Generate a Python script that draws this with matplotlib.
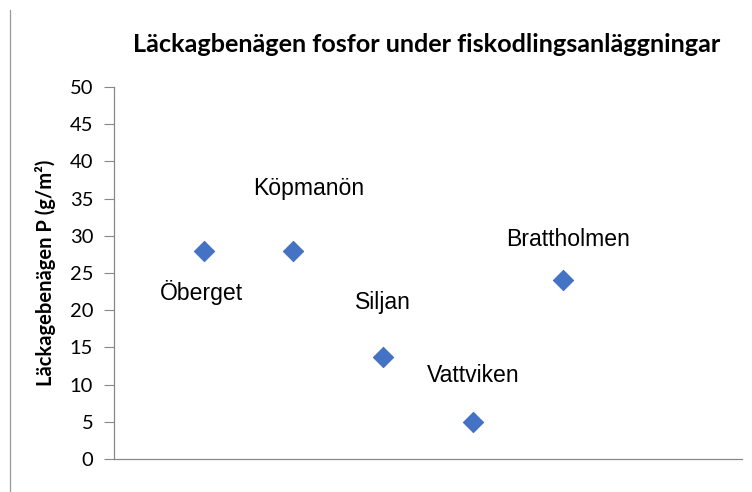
import matplotlib.pyplot as plt
from matplotlib.lines import Line2D

# data
sites = ["Öberget", "Köpmanön", "Siljan", "Vattviken", "Brattholmen"]
xpos = [1, 2, 3, 4, 5]
leakage = [28, 28, 13.7, 5, 24]
yticks = [0, 5, 10, 15, 20, 25, 30, 35, 40, 45, 50]

# label offsets in pixels (style only)
label_offsets = [(-2, -42), (15, 62), (0, 55), (0, 46), (5, 41)]

W, H = 752, 492
fig = plt.figure(figsize=(W / 100, H / 100), dpi=100)
ax = fig.add_axes([114 / W, 1 - 459 / H, (742 - 114) / W, (459 - 87) / H])

ax.scatter(xpos, leakage, marker="D", s=110, color="#4472C4", edgecolors="#3a66b8",
           linewidths=0.5, zorder=3)

for x, y, name, off in zip(xpos, leakage, sites, label_offsets):
    ax.annotate(name, (x, y), xytext=off, textcoords="offset pixels",
                ha="center", va="center", fontsize=16.6,
                family="Liberation Sans", color="black")

ax.set_xlim(0, 7)
ax.set_ylim(0, 50)
ax.set_yticks(yticks)
ax.set_xticks([])
for lab in ax.get_yticklabels():
    lab.set_family("Lato")
    lab.set_fontsize(14.5)
ax.tick_params(axis="y", direction="out", length=7, width=0.8, color="#888888", pad=8)

for s in ["top", "right"]:
    ax.spines[s].set_visible(False)
for s in ["left", "bottom"]:
    ax.spines[s].set_color("#888888")
    ax.spines[s].set_linewidth(0.9)

ax.set_ylabel("Läckagebenägen P (g/m²)", family="Lato", fontweight="bold",
              fontsize=14.5, labelpad=10)

fig.text(427 / W, 1 - 45 / H, "Läckagbenägen fosfor under fiskodlingsanläggningar",
         ha="center", va="center", family="Lato", fontweight="bold", fontsize=18.2)

# thin frame line at the left edge
fig.add_artist(Line2D([10 / W, 10 / W], [0, 1 - 10 / H], color="#999999", lw=0.9))

fig.savefig("out.png", dpi=100, facecolor="white")
